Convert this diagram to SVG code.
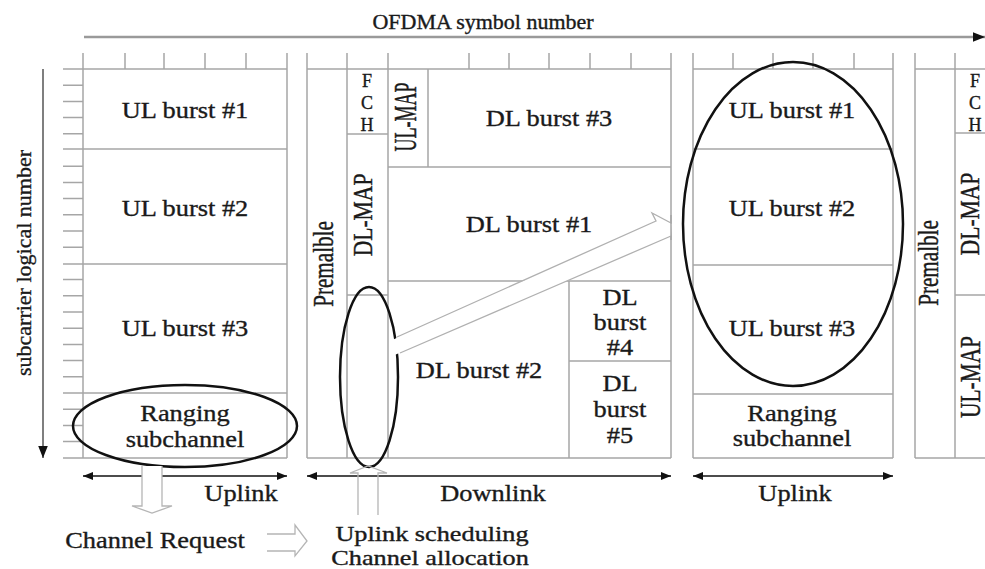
<svg xmlns="http://www.w3.org/2000/svg" width="985" height="569" viewBox="0 0 985 569">
<style>
.g{stroke:#a6a6a6;stroke-width:1.5;fill:none}
.t{font-family:"Liberation Serif","Times New Roman",serif;font-size:24px;fill:#1a1a1a;stroke:#1a1a1a;stroke-width:0.35;text-anchor:middle;dominant-baseline:central}
.s{font-size:18px}
.b{font-size:21px}
.el{fill:none;stroke:#111;stroke-width:2.5}
.ar{stroke:#111;stroke-width:1.5;fill:none}
.ho{stroke:#b5b5b5;stroke-width:1.3;fill:#fff}
</style>
<defs>
<marker id="ah" viewBox="0 0 10 10" refX="10" refY="5" markerWidth="10" markerHeight="10" markerUnits="userSpaceOnUse" orient="auto-start-reverse">
<path d="M0,1 L10,5 L0,9 Z" fill="#111"/>
</marker>
<marker id="ah2" viewBox="0 0 10 10" refX="10" refY="5" markerWidth="12" markerHeight="12" markerUnits="userSpaceOnUse" orient="auto">
<path d="M0,1 L10,5 L0,9 Z" fill="#111"/>
</marker>
</defs>
<rect width="985" height="569" fill="#fff"/>

<g id="axes">
<line x1="84" y1="37" x2="985" y2="37" stroke="#9a9a9a" stroke-width="2.5" marker-end="url(#ah2)"/>
<text class="t" transform="translate(483,22) scale(1.1,1)" style="font-size:20px">OFDMA symbol number</text>
<line x1="43" y1="69" x2="43" y2="458" stroke="#555" stroke-width="1.5" marker-end="url(#ah2)"/>
<text class="t" transform="translate(23,263) rotate(-90)" style="font-size:22px">subcarrier logical number</text>
</g>

<g id="frame-uplink-1">
<path class="g" d="M83,53V458M287,53V458M125,53V69M164,53V69M205,53V69M246,53V69M63,69H287M63,149H287M63,264H287M63,393H287M63,458H287
M63,85.2H83M63,101.4H83M63,117.6H83M63,133.8H83M63,166.2H83M63,182.4H83M63,198.6H83M63,214.8H83M63,231H83M63,247.2H83
M63,279.6H83M63,295.8H83M63,312H83M63,328.2H83M63,344.4H83M63,360.6H83M63,376.8H83M63,409.2H83M63,425.4H83M63,441.6H83"/>
<text class="t" transform="translate(185,110) scale(1.1,1)">UL burst #1</text>
<text class="t" transform="translate(185,208) scale(1.1,1)">UL burst #2</text>
<text class="t" transform="translate(185,328) scale(1.1,1)">UL burst #3</text>
<text class="t" transform="translate(185,413) scale(1.1,1)">Ranging</text>
<text class="t" transform="translate(185,439) scale(1.1,1)">subchannel</text>
</g>

<g id="frame-downlink">
<path class="g" d="M307,53V458M347,53V458M388,53V458M428,69V167M671,53V458M569,281V458
M469,53V69M509,53V69M549,53V69M590,53V69M631,53V69
M307,69H671M347,134H388M388,167H671M388,281H671M347,295H388M569,361H671M307,458H671"/>
<text class="t s" x="367" y="81">F</text>
<text class="t s" x="367" y="103">C</text>
<text class="t s" x="367" y="125">H</text>
<text class="t" transform="translate(406,117) rotate(-90) scale(0.75,1.3)">UL-MAP</text>
<text class="t" transform="translate(549,118) scale(1.1,1)">DL burst #3</text>
<text class="t" transform="translate(363,215) rotate(-90) scale(0.9,1.13)">DL-MAP</text>
<text class="t" transform="translate(529,224) scale(1.1,1)">DL burst #1</text>
<text class="t" transform="translate(323,264) rotate(-90) scale(0.88,1.2)">Premalble</text>
<text class="t" transform="translate(479,370) scale(1.1,1)">DL burst #2</text>
<text class="t" transform="translate(620,297) scale(1.1,1)">DL</text>
<text class="t" transform="translate(620,322) scale(1.1,1)">burst</text>
<text class="t" transform="translate(620,347) scale(1.1,1)">#4</text>
<text class="t" transform="translate(620,383) scale(1.1,1)">DL</text>
<text class="t" transform="translate(620,409) scale(1.1,1)">burst</text>
<text class="t" transform="translate(620,435) scale(1.1,1)">#5</text>
</g>

<g id="frame-uplink-2">
<path class="g" d="M693,53V458M893,53V458M733,53V69M773,53V69M813,53V69M854,53V69M693,69H893M693,149H893M693,265H893M693,394H893M693,458H893"/>
<text class="t" transform="translate(792,110) scale(1.1,1)">UL burst #1</text>
<text class="t" transform="translate(792,208) scale(1.1,1)">UL burst #2</text>
<text class="t" transform="translate(792,328) scale(1.1,1)">UL burst #3</text>
<text class="t" transform="translate(792,413) scale(1.1,1)">Ranging</text>
<text class="t" transform="translate(792,438) scale(1.1,1)">subchannel</text>
</g>

<g id="frame-next">
<path class="g" d="M915,53V458M955,53V458M915,69H985M955,133H985M955,295H985M915,458H985"/>
<text class="t s" x="975" y="81">F</text>
<text class="t s" x="975" y="103">C</text>
<text class="t s" x="975" y="125">H</text>
<text class="t" transform="translate(928,263) rotate(-90) scale(0.88,1.2)">Premalble</text>
<text class="t" transform="translate(970,214) rotate(-90) scale(0.9,1.1)">DL-MAP</text>
<text class="t" transform="translate(970,377) rotate(-90) scale(0.89,1.2)">UL-MAP</text>
</g>

<g id="highlights">
<ellipse id="ranging-ellipse" class="el" cx="185" cy="426" rx="112" ry="41"/>
<ellipse id="ulmap-ellipse" class="el" cx="369" cy="377" rx="29" ry="90"/>
<ellipse id="ul-ellipse" class="el" cx="793" cy="224" rx="110" ry="162"/>
</g>

<g id="connectors">
<line class="ar" x1="83" y1="476" x2="287" y2="476" marker-start="url(#ah)" marker-end="url(#ah)"/>
<line class="ar" x1="307" y1="476" x2="671" y2="476" marker-start="url(#ah)" marker-end="url(#ah)"/>
<line class="ar" x1="693" y1="476" x2="893" y2="476" marker-start="url(#ah)" marker-end="url(#ah)"/>
<text class="t" transform="translate(241,493) scale(1.1,1)">Uplink</text>
<text class="t" transform="translate(493,493) scale(1.1,1)">Downlink</text>
<text class="t" transform="translate(795,493) scale(1.1,1)">Uplink</text>

<polygon points="390,341 656,221 652,213 672,224 671,236 390,357" fill="#fff"/>
<polyline points="397,337 656,221 652,213 671,223" fill="none" stroke="#b0b0b0" stroke-width="1.3"/>
<line x1="400" y1="353" x2="671" y2="236" stroke="#b0b0b0" stroke-width="1.3"/>
<line x1="671" y1="215" x2="671" y2="240" class="g"/>

<path class="ho" d="M142,466V506H132L152,513L172,506H162V466"/>
<path fill="none" stroke="#b5b5b5" stroke-width="1.3" d="M358,515V473H350L368,466L387,473H378V515"/>
<path class="ho" d="M267,534H295V525L307,541L295,556V551H267"/>

<text class="t" transform="translate(155,540) scale(1.1,1)">Channel Request</text>
<text class="t b" transform="translate(432,534) scale(1.25,1)">Uplink scheduling</text>
<text class="t b" transform="translate(430,558) scale(1.25,1)">Channel allocation</text>
</g>
</svg>
